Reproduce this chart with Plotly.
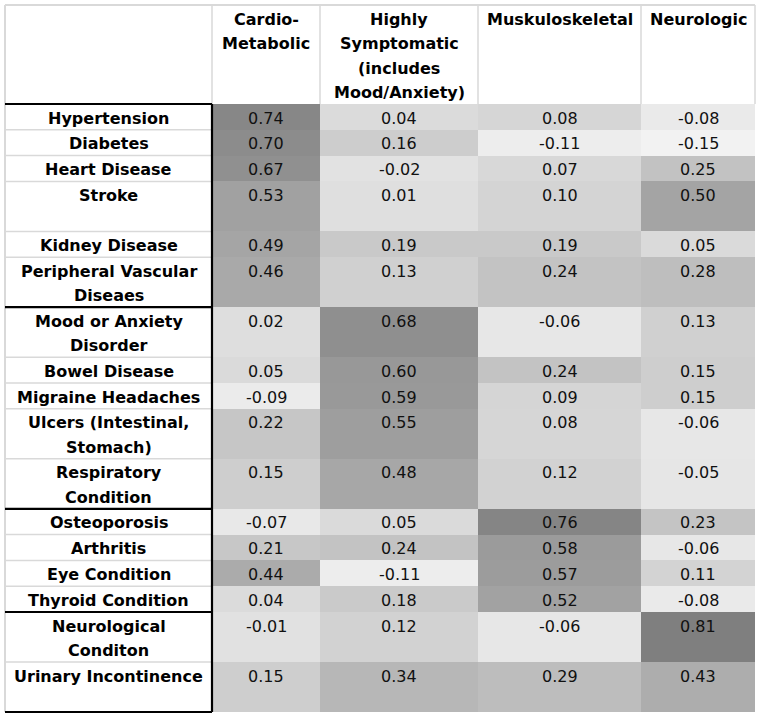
import plotly.graph_objects as go

# ---------------- data ----------------
factors = ["Cardio-<br>Metabolic",
           "Highly<br>Symptomatic<br>(includes<br>Mood/Anxiety)",
           "Muskuloskeletal",
           "Neurologic"]

conditions = ["Hypertension", "Diabetes", "Heart Disease", "Stroke",
              "Kidney Disease", "Peripheral Vascular<br>Diseaes",
              "Mood or Anxiety<br>Disorder", "Bowel Disease", "Migraine Headaches",
              "Ulcers (Intestinal,<br>Stomach)", "Respiratory<br>Condition",
              "Osteoporosis", "Arthritis", "Eye Condition", "Thyroid Condition",
              "Neurological<br>Conditon", "Urinary Incontinence"]

cardio_metabolic = [0.74, 0.70, 0.67, 0.53, 0.49, 0.46, 0.02, 0.05, -0.09, 0.22,
                    0.15, -0.07, 0.21, 0.44, 0.04, -0.01, 0.15]
highly_symptomatic = [0.04, 0.16, -0.02, 0.01, 0.19, 0.13, 0.68, 0.60, 0.59, 0.55,
                      0.48, 0.05, 0.24, -0.11, 0.18, 0.12, 0.34]
muskuloskeletal = [0.08, -0.11, 0.07, 0.10, 0.19, 0.24, -0.06, 0.24, 0.09, 0.08,
                   0.12, 0.76, 0.58, 0.57, 0.52, -0.06, 0.29]
neurologic = [-0.08, -0.15, 0.25, 0.50, 0.05, 0.28, 0.13, 0.15, 0.15, -0.06,
              -0.05, 0.23, -0.06, 0.11, -0.08, 0.81, 0.43]

# factor each condition is grouped under
condition_group = (["Cardio-Metabolic"] * 6 + ["Highly Symptomatic"] * 5 +
                   ["Muskuloskeletal"] * 4 + ["Neurologic"] * 2)

# ---------------- layout geometry (pixels) ----------------
W, H = 760, 718
LEFT, TOP = 5, 5
HEADER_H = 99
LABEL_W = 207
COL_W = [108, 158, 163, 114]
ROW_LINES = [1, 1, 1, 2, 1, 2, 2, 1, 1, 2, 2, 1, 1, 1, 1, 2, 2]
ROW_H1, ROW_H2 = 25.8, 50.0
LINE_GAP = 24.6
TEXT_OFF = 14.0

series = [cardio_metabolic, highly_symptomatic, muskuloskeletal, neurologic]
z = [[s[i] for s in series] for i in range(len(conditions))]

col_edges = [LEFT + LABEL_W]
for w in COL_W:
    col_edges.append(col_edges[-1] + w)
row_edges = [TOP + HEADER_H]
for n in ROW_LINES:
    row_edges.append(row_edges[-1] + (ROW_H1 if n == 1 else ROW_H2))

FONT = "DejaVu Sans"
fig = go.Figure()
fig.add_trace(go.Heatmap(
    z=z, x=col_edges, y=row_edges,
    zmin=-0.15, zmax=0.81,
    colorscale=[[0, "#f2f2f2"], [1, "#7f7f7f"]],
    showscale=False, hoverinfo="skip"))

annotations = []
def add_lines(text, xc, ytop, bold, color="#000000"):
    for k, line in enumerate(text.split("<br>")):
        annotations.append(dict(
            x=xc, y=ytop + TEXT_OFF + k * LINE_GAP, xref="x", yref="y",
            text=f"<b>{line}</b>" if bold else line, showarrow=False,
            xanchor="center", yanchor="middle",
            font=dict(family=FONT, size=16, color=color)))

label_xc = LEFT + LABEL_W / 2
for i, name in enumerate(conditions):
    add_lines(name, label_xc, row_edges[i], True)
    for j, s in enumerate(series):
        xc = (col_edges[j] + col_edges[j + 1]) / 2
        add_lines(f"{s[i]:.2f}", xc, row_edges[i], False, "#111111")
for j, f in enumerate(factors):
    xc = (col_edges[j] + col_edges[j + 1]) / 2
    add_lines(f, xc, TOP, True)

shapes = []
LIGHT = "#d9d9d9"
def line(x0, y0, x1, y1, color, width):
    shapes.append(dict(type="line", xref="x", yref="y", x0=x0, y0=y0, x1=x1, y1=y1,
                       line=dict(color=color, width=width)))

right = col_edges[-1]
bottom = row_edges[-1]
# light grid: header and label column
line(LEFT, TOP, right, TOP, LIGHT, 2)
line(LEFT, TOP, LEFT, bottom, LIGHT, 2)
for xe in col_edges:
    line(xe, TOP, xe, TOP + HEADER_H, LIGHT, 1.5)
for ye in row_edges[1:-1]:
    line(LEFT, ye, LEFT + LABEL_W, ye, LIGHT, 1.5)
# thick group borders
line(LEFT + LABEL_W, row_edges[0], LEFT + LABEL_W, bottom, "#000000", 2.2)
group_starts = [0] + [i for i in range(1, len(condition_group))
                      if condition_group[i] != condition_group[i - 1]] + [len(conditions)]
for gi in group_starts:
    line(LEFT, row_edges[gi], LEFT + LABEL_W, row_edges[gi], "#000000", 2.2)

fig.update_layout(
    width=W, height=H,
    margin=dict(l=0, r=0, t=0, b=0, pad=0),
    paper_bgcolor="white", plot_bgcolor="white",
    xaxis=dict(range=[0, W], visible=False, fixedrange=True),
    yaxis=dict(range=[H, 0], visible=False, fixedrange=True),
    annotations=annotations, shapes=shapes, showlegend=False)

fig.write_html("out.html", config={"displayModeBar": False},
               post_script="document.body.style.margin='0';"
                           "document.body.style.overflow='hidden';")
